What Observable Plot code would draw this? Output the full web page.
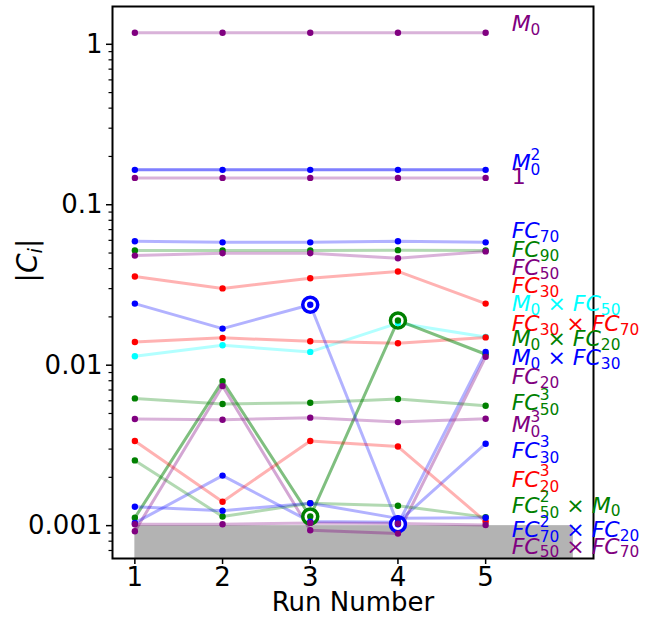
<!DOCTYPE html>
<html><head><meta charset="utf-8">
<script src="https://cdn.jsdelivr.net/npm/d3@7"></script>
<script src="https://cdn.jsdelivr.net/npm/@observablehq/plot@0.6"></script>
<style>body{margin:0;background:#fff} svg{display:block}</style>
</head><body><div id="chart"></div>
<script>
const runs = [1, 2, 3, 4, 5];

// values |C_i| per run, one array per term
const vM0        = [1.18, 1.18, 1.18, 1.18, 1.18];
const vM0sq      = [0.165, 0.165, 0.165, 0.165, 0.165];
const vOne       = [0.147, 0.147, 0.147, 0.147, 0.147];
const vFC70      = [0.0592, 0.0583, 0.0583, 0.0592, 0.0583];
const vFC90      = [0.0518, 0.0518, 0.0518, 0.0521, 0.0518];
const vFC50      = [0.0482, 0.0499, 0.0499, 0.0464, 0.0512];
const vFC30      = [0.0357, 0.0301, 0.0348, 0.0384, 0.0242];
const vM0FC50    = [0.01137, 0.0133, 0.0121, 0.0183, 0.0150];
const vFC30FC70  = [0.01396, 0.0148, 0.0141, 0.0137, 0.0149];
const vM0FC20    = [0.00112, 0.00796, 0.00114, 0.0190, 0.0117];
const vM0FC30    = [0.0242, 0.0169, 0.0238, 0.00102, 0.0121];
const vFC20      = [0.000922, 0.00741, 0.000935, 0.000892, 0.01127];
const vFC50cube  = [0.00621, 0.00573, 0.00583, 0.00615, 0.00559];
const vM0cube    = [0.00462, 0.00457, 0.00471, 0.00442, 0.00464];
const vFC30cube  = [0.00104, 0.00205, 0.00106, 0.00105, 0.00324];
const vFC20cube  = [0.00337, 0.00141, 0.00337, 0.00311, 0.00106];
const vFC50sqM0  = [0.00255, 0.00114, 0.00138, 0.00133, 0.00113];
const vFC70sqFC20= [0.00131, 0.00124, 0.00138, 0.00111, 0.00112];
const vFC50FC70  = [0.00102, 0.00102, 0.00104, 0.00103, 0.00101];

const seriesValues = [vM0, vM0sq, vOne, vFC70, vFC90, vFC50, vFC30, vM0FC50, vFC30FC70,
  vM0FC20, vM0FC30, vFC20, vFC50cube, vM0cube, vFC30cube, vFC20cube, vFC50sqM0, vFC70sqFC20, vFC50FC70];

const seriesLabels = ["M_{0}", "M_{0}^{2}", "1", "FC_{70}", "FC_{90}", "FC_{50}", "FC_{30}",
  "M_{0} × FC_{50}", "FC_{30} × FC_{70}", "M_{0} × FC_{20}", "M_{0} × FC_{30}", "FC_{20}",
  "FC_{50}^{3}", "M_{0}^{3}", "FC_{30}^{3}", "FC_{20}^{3}", "FC_{50}^{2} × M_{0}",
  "FC_{70}^{2} × FC_{20}", "FC_{50} × FC_{70}"];

// label anchor values (in |C_i| units) at the right end
const labelValues = [1.335, 0.1824, 0.1493, 0.0685, 0.0522, 0.0403, 0.0310, 0.0240, 0.0180,
  0.0145, 0.01105, 0.00842, 0.00581, 0.00424, 0.00294, 0.00194, 0.00133, 0.000938, 0.000741];

const seriesColors = ["#800080", "#0000ff", "#800080", "#0000ff", "#008000", "#800080", "#ff0000",
  "#00ffff", "#ff0000", "#008000", "#0000ff", "#800080", "#008000", "#800080", "#0000ff",
  "#ff0000", "#008000", "#0000ff", "#800080"];
const lineAlpha = [0.3, 0.5, 0.3, 0.3, 0.3, 0.3, 0.3, 0.3, 0.3, 0.5, 0.3, 0.35, 0.3, 0.3, 0.3, 0.3, 0.3, 0.3, 0.3];

// highlighted (circled) points: series index and run
const highlightSeries = [10, 10, 9, 9];
const highlightRuns = [3, 4, 3, 4];

const threshold = 0.001;
const thresholdRuns = [1, 6];

const yTicks = [1, 0.1, 0.01, 0.001];
const yTickLabels = ["1", "0.1", "0.01", "0.001"];
const xLabel = "Run Number";
const yLabel = "|C_{i}|";

const xDomain = [0.745, 6.23];
const yDomain = [0.000624, 1.72];

// build tables
const long = [];
seriesValues.forEach((vals, s) => vals.forEach((v, i) => long.push({
  series: s, run: runs[i], value: v, color: seriesColors[s], alpha: lineAlpha[s]})));
const labels = seriesLabels.map((t, s) => ({text: t, y: labelValues[s], color: seriesColors[s], run: runs[runs.length - 1]}));
const highlights = highlightSeries.map((s, k) => ({run: highlightRuns[k], value: seriesValues[s][highlightRuns[k] - 1], color: seriesColors[s]}));
const shade = [{x1: thresholdRuns[0], x2: thresholdRuns[1], y: threshold}];
const minorTicks = d3.range(-4, 1).flatMap(e => d3.range(2, 10).map(m => m * 10 ** e))
  .filter(v => v > yDomain[0] && v < yDomain[1]);

const FONT = "DejaVu Sans";
const plot = Plot.plot({
  width: 650, height: 619,
  marginLeft: 112, marginRight: 57, marginTop: 6, marginBottom: 61,
  style: {fontFamily: FONT, background: "white", color: "black", overflow: "visible"},
  x: {domain: xDomain, axis: null},
  y: {type: "log", domain: yDomain, axis: null},
  color: {type: "identity"},
  opacity: {type: "identity"},
  marks: [
    Plot.rect(shade, {x1: "x1", x2: "x2", y1: () => yDomain[0], y2: "y", fill: "gray", fillOpacity: 0.6}),
    Plot.line(long, {x: "run", y: "value", z: "series", stroke: "color", strokeOpacity: "alpha", strokeWidth: 3}),
    Plot.dot(highlights, {x: "run", y: "value", r: 7.5, stroke: "color", strokeWidth: 3.5, fill: "white"}),
    Plot.dot(long, {x: "run", y: "value", fill: "color", r: 3.2}),
    Plot.axisY({ticks: minorTicks, tickSize: 3.5, text: null, label: null, strokeWidth: 1.2}),
    Plot.axisY({ticks: yTicks, tickSize: 6, tickPadding: 4, fontSize: 26, label: null, strokeWidth: 1.5,
      tickFormat: d => yTickLabels[yTicks.indexOf(d)]}),
    Plot.axisX({ticks: runs, tickSize: 6, tickPadding: 3, fontSize: 26, label: null, strokeWidth: 1.5, tickFormat: d => String(d)}),
    Plot.frame({stroke: "black", strokeWidth: 2}),
    Plot.text(labels, {x: "run", y: "y", text: "text", fill: "color", textAnchor: "start", dx: 26, fontSize: 22, className: "richlabel"}),
    Plot.text([xLabel], {frameAnchor: "bottom", text: d => d, dy: 44, fontSize: 26, lineAnchor: "middle"}),
    Plot.text([yLabel], {frameAnchor: "left", text: d => d, rotate: -90, dx: -84, fontSize: 28, className: "richaxis"})
  ]
});
document.getElementById("chart").appendChild(plot);

const NS = "http://www.w3.org/2000/svg";
function richify(t, src, fs) {
  while (t.firstChild) t.removeChild(t.firstChild);
  t.setAttribute("style", "white-space: pre");
  const sfs = fs * 0.7;
  let cur = 0;
  const add = (str, size, off, extraDx) => {
    const parts = str.match(/[A-Za-z]+|[^A-Za-z]+/g) || [];
    parts.forEach((p, k) => {
      const ts = document.createElementNS(NS, "tspan");
      ts.textContent = p;
      ts.setAttribute("font-size", size);
      if (/[A-Za-z]/.test(p)) ts.setAttribute("font-style", "italic");
      if (k === 0) {
        if (off !== cur) ts.setAttribute("dy", off - cur);
        cur = off;
        if (extraDx) ts.setAttribute("dx", extraDx);
      }
      t.appendChild(ts);
    });
  };
  const re = /_\{([^}]*)\}(?:\^\{([^}]*)\})?|\^\{([^}]*)\}|([^_^]+)/g;
  let m, carry = 0;
  while ((m = re.exec(src))) {
    if (m[4] != null) { add(m[4], fs, 0, carry); carry = 0; }
    else if (m[1] != null) {
      if (m[2] != null) {
        add(m[1], sfs, 0.23 * fs, carry);
        const subW = m[1].length * 0.636 * sfs, supW = m[2].length * 0.636 * sfs;
        add(m[2], sfs, -0.47 * fs, -subW);
        carry = subW - supW;
      } else { add(m[1], sfs, 0.16 * fs, carry); carry = 0; }
    } else if (m[3] != null) { add(m[3], sfs, -0.45 * fs, carry); carry = 0; }
  }
}
plot.querySelectorAll("g.richlabel text").forEach(t => richify(t, t.textContent, 22));
plot.querySelectorAll("g.richaxis text").forEach(t => richify(t, t.textContent, 28));
</script>
</body></html>
